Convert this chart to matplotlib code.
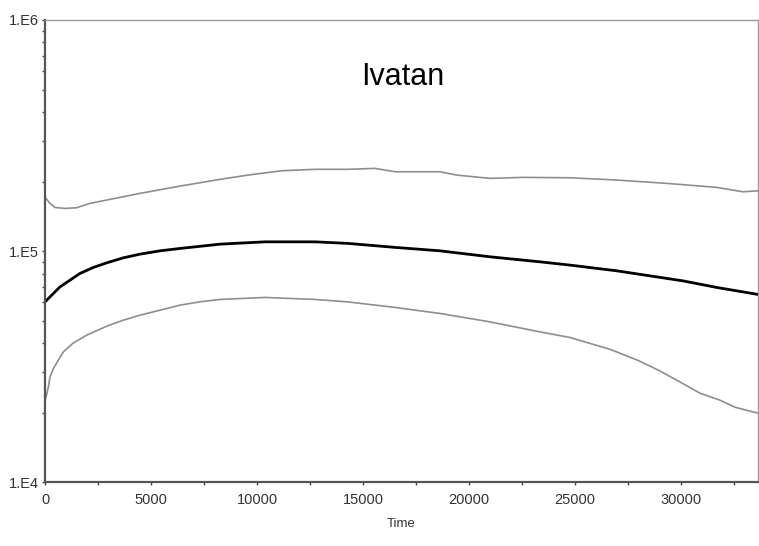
import matplotlib.pyplot as plt
import numpy as np
from matplotlib.ticker import MultipleLocator, LogLocator, FixedLocator, FixedFormatter, NullFormatter

plt.rcParams['font.family'] = ['Liberation Sans', 'DejaVu Sans']

# upper 95% HPD
t_upper = [0, 236, 472, 943, 1494, 2123, 4481, 6368, 8255, 9575, 11165, 12736, 14292,
           15566, 16509, 18632, 19420, 20991, 22547, 24764, 26967, 29325, 31684, 32925, 33632]
ne_upper = [171000, 160900, 154500, 153000, 154100, 160900, 177800, 191100, 204400,
            213300, 222700, 225900, 225900, 228000, 220500, 220500, 213300, 206400,
            208500, 207700, 203000, 196400, 188700, 180600, 182400]

# median
t_median = [0, 393, 708, 1179, 1651, 2280, 2910, 3695, 4481, 5425, 6368, 8255, 10377,
            12736, 14292, 16509, 18632, 20991, 23349, 24764, 26967, 30094, 31684, 33632]
ne_median = [60300, 65570, 70050, 74900, 80100, 85000, 89000, 93550, 97050, 100300,
             102700, 107200, 109700, 109700, 108000, 103800, 100300, 94500, 89900,
             87000, 82200, 74360, 69640, 64950]

# lower 95% HPD
t_lower = [0, 80, 157, 236, 393, 865, 1321, 1965, 2910, 3695, 4481, 5425, 6368, 7311,
           8255, 10377, 12736, 14292, 16509, 18632, 20991, 23349, 24764, 26651, 28000,
           29009, 30000, 30896, 31840, 32547, 33632]
ne_lower = [22600, 24000, 25860, 28560, 31050, 36640, 39970, 43290, 47350, 50270, 52840,
            55540, 58390, 60360, 61800, 63050, 61800, 60300, 57070, 53750, 49420, 44730,
            42300, 37600, 33600, 30300, 27000, 24300, 22650, 21120, 19900]

t_max = 33632
ytick_vals = [1e4, 1e5, 1e6]
ytick_labels = ['1.E4', '1.E5', '1.E6']

fig = plt.figure(figsize=(7.59, 5.46), dpi=100)
ax = fig.add_axes([0.0593, 0.1167, 0.9394, 0.8467])

ax.plot(t_upper, ne_upper, color='#8e8e8e', lw=1.2)
ax.plot(t_lower, ne_lower, color='#8e8e8e', lw=1.2)
ax.plot(t_median, ne_median, color='black', lw=2.0)

ax.set_yscale('log')
ax.set_ylim(1e4, 1e6)
ax.set_xlim(0, t_max)

ax.yaxis.set_major_locator(FixedLocator(ytick_vals))
ax.yaxis.set_major_formatter(FixedFormatter(ytick_labels))
ax.yaxis.set_minor_locator(LogLocator(base=10, subs=np.arange(2, 10)))
ax.yaxis.set_minor_formatter(NullFormatter())
ax.xaxis.set_major_locator(MultipleLocator(5000))
ax.xaxis.set_minor_locator(MultipleLocator(2500))

ax.tick_params(which='both', direction='out', length=2.5, width=1, color='#444444',
               labelsize=10.5, labelcolor='#333333')
ax.tick_params(axis='x', pad=5)
ax.tick_params(axis='y', pad=2)

for side in ['left', 'bottom']:
    ax.spines[side].set_color('#555555')
    ax.spines[side].set_linewidth(1.6)
for side in ['top', 'right']:
    ax.spines[side].set_color('#999999')
    ax.spines[side].set_linewidth(1.0)

ax.set_xlabel('Time', fontsize=9.5, color='#333333', labelpad=8)
ax.text(0.502, 0.876, 'Ivatan', transform=ax.transAxes, fontsize=22,
        ha='center', va='center', color='black')

fig.savefig('out.png', dpi=100)
